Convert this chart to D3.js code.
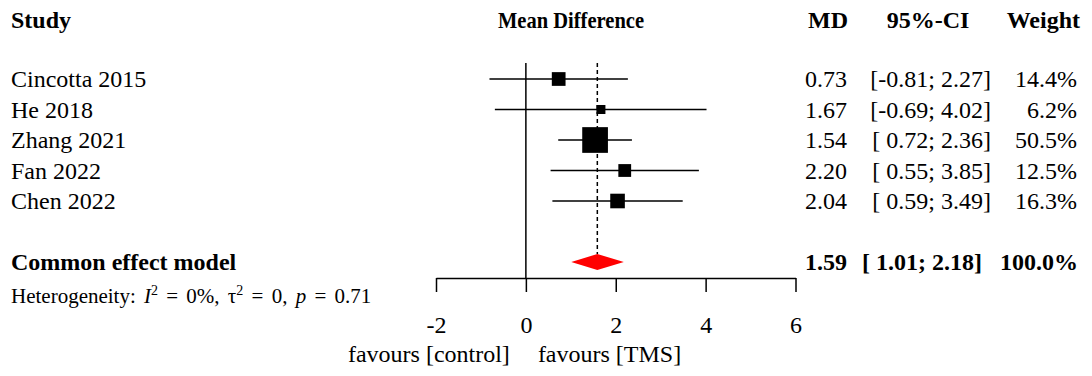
<!DOCTYPE html>
<html lang="en">
<head>
    <meta charset="UTF-8">
    <title>Forest plot</title>
    <script src="https://d3js.org/d3.v7.min.js"></script>
    <style>
        body { margin: 0; background: #fff; }
        text { font-family: "Liberation Serif", "Times New Roman", serif; fill: #000; }
    </style>
</head>
<body>
    <div id="forest"></div>
    <script>
        var studies = ['Cincotta 2015', 'He 2018', 'Zhang 2021', 'Fan 2022', 'Chen 2022'];
        var md = [0.73, 1.67, 1.54, 2.20, 2.04];
        var lower = [-0.81, -0.69, 0.72, 0.55, 0.59];
        var upper = [2.27, 4.02, 2.36, 3.85, 3.49];
        var weights = [14.4, 6.2, 50.5, 12.5, 16.3];
        var pooled = {label: 'Common effect model', md: 1.59, lower: 1.01, upper: 2.18, weight: 100.0};
        var xTicks = [-2, 0, 2, 4, 6];

        var width = 1092,
            height = 376;

        var svg = d3.select('#forest')
            .append('svg')
            .attr('width', width)
            .attr('height', height);

        var x = d3.scaleLinear()
            .domain([-2, 6])
            .range([436, 795.5]);

        // row index -> vertical centre, pooled row sits at index 6
        var y = d3.scaleLinear()
            .domain([0, 6])
            .range([79, 262]);

        var size = d3.scaleSqrt()
            .domain([0, 50.5])
            .range([0, 25.7]);

        // plain hyphen for negatives, like the R output
        var loc = d3.formatLocale({decimal: '.', thousands: ',', grouping: [3], currency: ['', ''], minus: '-'});
        var f2 = loc.format('.2f');
        var f1 = loc.format('.1f');
        var ci = function (lo, hi) {
            return '[' + (lo < 0 ? '' : ' ') + f2(lo) + '; ' + f2(hi) + ']';
        };

        // headers
        var head = svg.append('g').attr('font-weight', 'bold').attr('font-size', 24);
        head.append('text').attr('x', 11).attr('y', 28).text('Study');
        head.append('text').attr('x', 571).attr('y', 28).attr('text-anchor', 'middle')
            .attr('textLength', 146).attr('lengthAdjust', 'spacingAndGlyphs')
            .text('Mean Difference');
        head.append('text').attr('x', 848).attr('y', 28).attr('text-anchor', 'end').text('MD');
        head.append('text').attr('x', 928).attr('y', 28).attr('text-anchor', 'middle').text('95%-CI');
        head.append('text').attr('x', 1080).attr('y', 28).attr('text-anchor', 'end').text('Weight');

        // zero line and pooled dashed line
        svg.append('line')
            .attr('x1', x(0)).attr('x2', x(0))
            .attr('y1', 63).attr('y2', 278)
            .attr('stroke', '#000').attr('stroke-width', 1.5);
        svg.append('line')
            .attr('x1', x(pooled.md)).attr('x2', x(pooled.md))
            .attr('y1', 63).attr('y2', y(6) - 8)
            .attr('stroke', '#000').attr('stroke-width', 1.5)
            .attr('stroke-dasharray', '4,3');

        var rows = svg.append('g')
            .selectAll('g')
            .data(studies)
            .enter()
            .append('g');

        rows.append('line')
            .attr('x1', (d, i) => x(lower[i]))
            .attr('x2', (d, i) => x(upper[i]))
            .attr('y1', (d, i) => y(i))
            .attr('y2', (d, i) => y(i))
            .attr('stroke', '#000').attr('stroke-width', 1.5);

        rows.append('rect')
            .attr('x', (d, i) => x(md[i]) - size(weights[i]) / 2)
            .attr('y', (d, i) => y(i) - size(weights[i]) / 2)
            .attr('width', (d, i) => size(weights[i]))
            .attr('height', (d, i) => size(weights[i]))
            .attr('fill', '#000');

        rows.append('text')
            .attr('x', 11).attr('y', (d, i) => y(i) + 8)
            .attr('font-size', 24)
            .text(d => d);

        rows.append('text')
            .attr('x', 847).attr('y', (d, i) => y(i) + 8)
            .attr('font-size', 24).attr('text-anchor', 'end')
            .text((d, i) => f2(md[i]));

        rows.append('text')
            .attr('x', 991).attr('y', (d, i) => y(i) + 8)
            .attr('font-size', 24).attr('text-anchor', 'end')
            .style('white-space', 'pre')
            .text((d, i) => ci(lower[i], upper[i]));

        rows.append('text')
            .attr('x', 1077).attr('y', (d, i) => y(i) + 8)
            .attr('font-size', 24).attr('text-anchor', 'end')
            .text((d, i) => f1(weights[i]) + '%');

        // pooled diamond
        var py = y(6);
        svg.append('path')
            .attr('d', 'M' + x(pooled.lower) + ',' + py +
                'L' + x(pooled.md) + ',' + (py - 8) +
                'L' + x(pooled.upper) + ',' + py +
                'L' + x(pooled.md) + ',' + (py + 8) + 'Z')
            .attr('fill', '#ff0000');

        var pg = svg.append('g').attr('font-weight', 'bold').attr('font-size', 24);
        pg.append('text').attr('x', 11).attr('y', py + 8).text(pooled.label);
        pg.append('text').attr('x', 847).attr('y', py + 8).attr('text-anchor', 'end').text(f2(pooled.md));
        pg.append('text').attr('x', 982).attr('y', py + 8).attr('text-anchor', 'end')
            .style('white-space', 'pre').text(ci(pooled.lower, pooled.upper));
        pg.append('text').attr('x', 1078).attr('y', py + 8).attr('text-anchor', 'end')
            .text(f1(pooled.weight) + '%');

        // heterogeneity
        var het = svg.append('text').attr('x', 11).attr('y', 303).attr('font-size', 21)
            .style('white-space', 'pre')
            .style('word-spacing', '3px');
        het.append('tspan').text('Heterogeneity: ');
        het.append('tspan').attr('font-style', 'italic').text('I');
        het.append('tspan').attr('font-size', 14).attr('dy', -8).text('2');
        het.append('tspan').attr('dy', 8).text(' = 0%, \u03c4');
        het.append('tspan').attr('font-size', 14).attr('dy', -8).text('2');
        het.append('tspan').attr('dy', 8).text(' = 0, ');
        het.append('tspan').attr('font-style', 'italic').text('p');
        het.append('tspan').text(' = 0.71');

        // axis
        var axis = svg.append('g')
            .attr('transform', 'translate(0,278)')
            .call(d3.axisBottom(x).tickValues(xTicks).tickSize(14).tickPadding(24).tickSizeOuter(0)
                .tickFormat(loc.format('d')));
        axis.select('.domain').attr('stroke', '#000').attr('stroke-width', 1.5);
        axis.selectAll('.tick line').attr('stroke', '#000').attr('stroke-width', 1.5);
        axis.selectAll('.tick text')
            .attr('font-size', 24)
            .attr('font-family', '"Liberation Serif", "Times New Roman", serif');

        svg.append('text').attr('x', x(0) - 16).attr('y', 362).attr('font-size', 24)
            .attr('text-anchor', 'end').text('favours [control]');
        svg.append('text').attr('x', x(0) + 12).attr('y', 362).attr('font-size', 24)
            .text('favours [TMS]');
    </script>
</body>
</html>
